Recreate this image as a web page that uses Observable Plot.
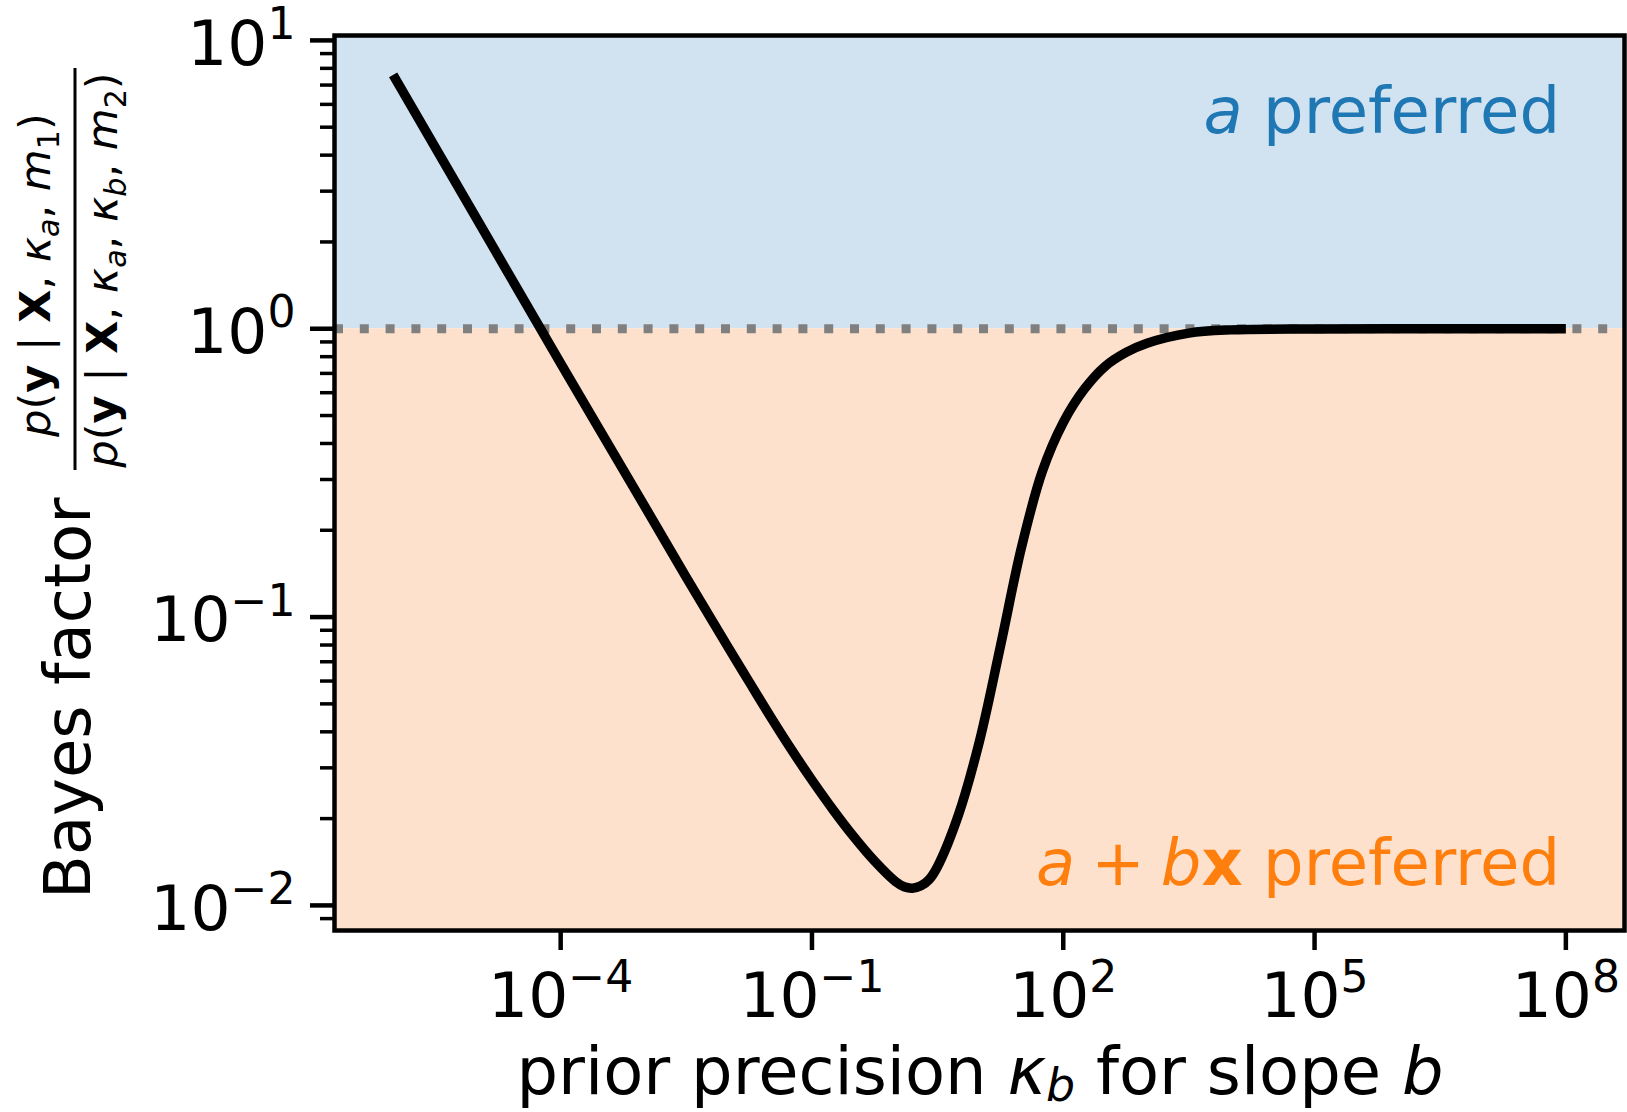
<!DOCTYPE html>
<html><head><meta charset="utf-8">
<script src="https://cdn.jsdelivr.net/npm/d3@7"></script>
<script src="https://cdn.jsdelivr.net/npm/@observablehq/plot@0.6"></script>
<style>
html,body{margin:0;padding:0;background:#fff;}
svg{display:block;}
</style></head><body>
<div id="chart"></div>
<script>
// ---- data ----
const kappa = [1e-6, 1e-5, 1e-4, 1e-3, 0.00316, 0.01, 0.0178, 0.0316, 0.0562, 0.1, 0.178, 0.316, 0.562, 1, 1.26, 1.58, 2.00, 2.51, 3.16, 5.62, 10, 17.8, 31.6, 56.2, 100, 178, 316, 562, 1000, 3160, 1e4, 1e5, 1e6, 1e7, 1e8];
const bayesFactor = [7.59, 2.40, 0.759, 0.243, 0.1374, 0.0785, 0.0596, 0.0454, 0.0349, 0.0272, 0.0215, 0.0173, 0.01422, 0.01208, 0.01161, 0.01148, 0.01169, 0.01230, 0.01365, 0.02065, 0.03715, 0.0794, 0.1738, 0.320, 0.473, 0.617, 0.741, 0.828, 0.891, 0.966, 0.991, 0.998, 1.0, 1.0, 1.0];
const xTicks = [1e-4, 1e-1, 1e2, 1e5, 1e8];
const yTicks = [1e-2, 1e-1, 1e0, 1e1];
const yMinorTicks = [0.009, 0.02, 0.03, 0.04, 0.05, 0.06, 0.07, 0.08, 0.09, 0.2, 0.3, 0.4, 0.5, 0.6, 0.7, 0.8, 0.9, 2, 3, 4, 5, 6, 7, 8, 9];
const xDomain = [Math.pow(10, -6.7), Math.pow(10, 8.7)];
const yDomain = [Math.pow(10, -2.087), Math.pow(10, 1.017)];
const threshold = [1];
const regionNames = ["a preferred", "a + bx preferred"];

const curve = kappa.map((k, i) => ({kappa: k, bf: bayesFactor[i]}));
const regions = [
  {name: regionNames[0], y1: threshold[0], y2: yDomain[1], fill: "#d1e2f0"},
  {name: regionNames[1], y1: yDomain[0], y2: threshold[0], fill: "#fee1cd"}
];

const W = 1627, H = 1112;
const FS = 64;   // label font size
const TS = 63;   // tick label font size
const plot = Plot.plot({
  width: W, height: H,
  marginLeft: 334, marginRight: 3, marginTop: 35, marginBottom: 182,
  style: {fontFamily: "DejaVu Sans", background: "white", color: "black", overflow: "visible"},
  x: {type: "log", domain: xDomain},
  y: {type: "log", domain: yDomain},
  marks: [
    Plot.rect(regions, {x1: () => xDomain[0], x2: () => xDomain[1], y1: "y1", y2: "y2", fill: "fill"}),
    Plot.ruleY(threshold, {stroke: "#808080", strokeWidth: 9, strokeDasharray: "9 16.8"}),
    Plot.line(curve, {x: "kappa", y: "bf", stroke: "black", strokeWidth: 9.5, curve: "catmull-rom", strokeLinecap: "butt"}),
    Plot.axisY(yMinorTicks, {anchor: "left", tickSize: 14, strokeWidth: 3.5, tickFormat: () => "", label: null}),
    Plot.axisY(yTicks, {anchor: "left", tickSize: 24, strokeWidth: 4.5, tickPadding: 15, fontSize: TS,
      tickFormat: d => "10^" + Math.round(Math.log10(d)), label: null, className: "ymaj"}),
    Plot.axisX(xTicks, {anchor: "bottom", tickSize: 20, strokeWidth: 4.5, tickPadding: 22, fontSize: TS,
      tickFormat: d => "10^" + Math.round(Math.log10(d)), label: null, className: "xmaj"}),
    Plot.frame({stroke: "black", strokeWidth: 4.5})
  ]
});
document.getElementById("chart").appendChild(plot);

const svg = d3.select(plot);
// superscript exponents on tick labels
svg.selectAll("text").each(function () {
  const t = this.textContent;
  if (/^10\^/.test(t)) {
    const isY = this.closest(".ymaj") !== null;
    const exp = t.slice(3).replace("-", "\u2212");
    this.textContent = "";
    const s = d3.select(this);
    const base = s.append("tspan").text("10");
    const shift = isY ? 4 : 0;
    if (shift) base.attr("dy", shift);
    s.append("tspan").attr("dy", -0.405 * TS).attr("font-size", TS * 0.7).text(exp);
  }
});

// mixed-style text helper
function mathText(parent, x, y, rotate, anchor, size, fill, segs, subShift = 0.2) {
  const t = parent.append("text")
    .attr("transform", `translate(${x},${y})` + (rotate ? ` rotate(${rotate})` : ""))
    .attr("text-anchor", anchor)
    .attr("font-family", "DejaVu Sans")
    .attr("font-size", size)
    .attr("fill", fill);
  let shifted = 0;
  for (const [txt, st] of segs) {
    const sp = t.append("tspan").text(txt);
    const isSub = st.includes("s");
    const target = isSub ? size * subShift : 0;
    if (target !== shifted) { sp.attr("dy", target - shifted); shifted = target; }
    if (isSub) sp.attr("font-size", size * 0.7);
    if (st.includes("i")) sp.attr("font-style", "italic");
    if (st.includes("b")) sp.attr("font-weight", "bold");
  }
  return t;
}

const ann = svg.append("g");
// y-axis label
mathText(ann, 90, 899, -90, "start", FS, "black", [["Bayes factor", "n"]]);
const FF = 43;
mathText(ann, 50, 275, -90, "middle", FF, "black", [
  ["p", "i"], ["(", "n"], ["y", "b"], [" | ", "n"], ["X", "b"], [", ", "n"],
  ["\u03ba", "i"], ["a", "si"], [", ", "n"], ["m", "i"], ["1", "s"], [")", "n"]
]);
mathText(ann, 117, 270, -90, "middle", FF, "black", [
  ["p", "i"], ["(", "n"], ["y", "b"], [" | ", "n"], ["X", "b"], [", ", "n"],
  ["\u03ba", "i"], ["a", "si"], [", ", "n"], ["\u03ba", "i"], ["b", "si"], [", ", "n"],
  ["m", "i"], ["2", "s"], [")", "n"]
]);
ann.append("line").attr("x1", 75).attr("x2", 75).attr("y1", 68).attr("y2", 470)
  .attr("stroke", "black").attr("stroke-width", 3);

// x-axis label
mathText(ann, 980, 1093.5, 0, "middle", 65.5, "black", [
  ["prior precision ", "n"], ["\u03ba", "i"], ["b", "si"], [" for slope ", "n"], ["b", "i"]
], 0.12);

// region annotations
mathText(ann, 1560, 133, 0, "end", FS, "#1f77b4", [["a", "i"], [" preferred", "n"]]);
mathText(ann, 1560, 885, 0, "end", FS, "#ff7f0e", [
  ["a", "i"], ["\u2005+\u2005", "n"], ["b", "i"], ["x", "b"], [" preferred", "n"]
]);
</script>
</body></html>
